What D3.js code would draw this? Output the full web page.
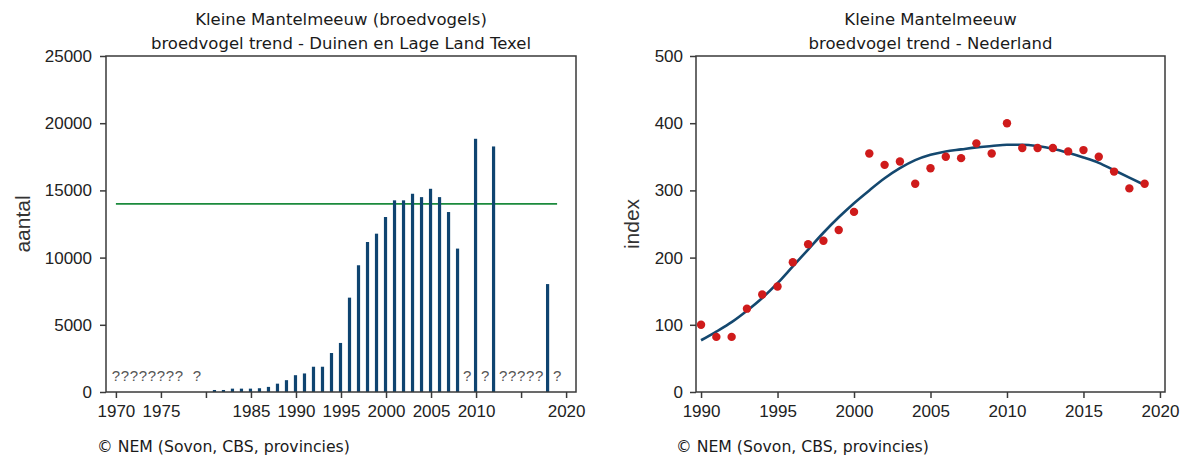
<!DOCTYPE html>
<html>
<head>
<meta charset="utf-8">
<script src="https://cdn.jsdelivr.net/npm/d3@7"></script>
<style>
  html, body { margin: 0; padding: 0; background: #fff; }
  svg { display: block; }
  .tick text { font-family: "Liberation Sans", Arial, sans-serif; font-size: 17px; fill: #222; }
  .title { font-family: "DejaVu Sans", sans-serif; font-size: 16.5px; fill: #1a1a1a; }
  .footer { font-family: "DejaVu Sans", sans-serif; font-size: 15.7px; fill: #1a1a1a; }
  .ylab { font-family: "Liberation Sans", Arial, sans-serif; font-size: 21px; fill: #333; }
  .qm { font-family: "Liberation Sans", Arial, sans-serif; font-size: 15px; fill: #555; }
</style>
</head>
<body>
<svg id="chart" width="1187" height="456"></svg>
<script>
// ---- Texel colony counts (breeding pairs) ----
const texelYears = [1981, 1982, 1983, 1984, 1985, 1986, 1987, 1988, 1989, 1990,
                    1991, 1992, 1993, 1994, 1995, 1996, 1997, 1998, 1999, 2000,
                    2001, 2002, 2003, 2004, 2005, 2006, 2007, 2008, 2010, 2012, 2018];
const texelCounts = [150, 150, 250, 250, 250, 280, 380, 620, 880, 1250,
                     1380, 1880, 1880, 2900, 3650, 7020, 9430, 11160, 11780, 13020,
                     14260, 14260, 14750, 14500, 15120, 14500, 13390, 10670, 18840, 18270, 8030];
// years without a count
const unknownYears = [1970, 1971, 1972, 1973, 1974, 1975, 1976, 1977, 1979,
                      2009, 2011, 2013, 2014, 2015, 2016, 2017, 2019];
const referenceLevel = 14000;
const referenceSpan = [1970, 2019];
const texelTickValues = [1970, 1975, 1980, 1985, 1990, 1995, 2000, 2005, 2010, 2015, 2020];
const texelTickLabels = ["1970", "1975", "", "1985", "1990", "1995", "2000", "2005", "2010", "", "2020"];
const texelYTicks = [0, 5000, 10000, 15000, 20000, 25000];

// ---- National index (1990 = 100) ----
const nlYears = [1990, 1991, 1992, 1993, 1994, 1995, 1996, 1997, 1998, 1999,
                 2000, 2001, 2002, 2003, 2004, 2005, 2006, 2007, 2008, 2009,
                 2010, 2011, 2012, 2013, 2014, 2015, 2016, 2017, 2018, 2019];
const nlIndex = [100, 82, 82, 124, 145, 157, 193, 220, 225, 241,
                 268, 355, 338, 343, 310, 333, 350, 348, 370, 355,
                 400, 363, 363, 363, 358, 360, 350, 328, 303, 310];
const nlTrend = [77, 90, 104, 121, 140, 162, 187, 212, 237, 260,
                 281, 300, 318, 333, 345, 353, 358, 361, 364, 366,
                 368, 368, 366, 362, 356, 349, 341, 330, 319, 308];
const nlTickValues = [1990, 1995, 2000, 2005, 2010, 2015, 2020];
const nlYTicks = [0, 100, 200, 300, 400, 500];

const barColor = "#0f4470";
const axisColor = "#3a3a3a";

const svg = d3.select("#chart");

function frame(g, x0, x1, y0, y1) {
  g.append("rect")
    .attr("x", x0).attr("y", y0)
    .attr("width", x1 - x0).attr("height", y1 - y0)
    .attr("fill", "none").attr("stroke", axisColor).attr("stroke-width", 1.5);
}

function styleAxis(sel) {
  sel.select(".domain").remove();
  sel.selectAll(".tick line").attr("stroke", axisColor).attr("stroke-width", 1.5);
}

// ================= left panel =================
{
  const L = 106, R = 576, T = 56, B = 392;
  const x = d3.scaleLinear().domain([1968.9, 2021.1]).range([L, R]);
  const y = d3.scaleLinear().domain([0, 25000]).range([B, T]);
  const g = svg.append("g");

  g.append("text").attr("class", "title").attr("x", (L + R) / 2).attr("y", 25)
    .attr("text-anchor", "middle").text("Kleine Mantelmeeuw (broedvogels)");
  g.append("text").attr("class", "title").attr("x", (L + R) / 2).attr("y", 49)
    .attr("text-anchor", "middle").text("broedvogel trend - Duinen en Lage Land Texel");

  g.append("g").attr("transform", `translate(${L},0)`)
    .call(d3.axisLeft(y).tickValues(texelYTicks).tickSize(6).tickPadding(8).tickFormat(d3.format("d")))
    .call(styleAxis);

  g.append("g").attr("transform", `translate(0,${B})`)
    .call(d3.axisBottom(x).tickValues(texelTickValues).tickSize(6).tickPadding(7)
      .tickFormat((d, i) => texelTickLabels[i]))
    .call(styleAxis);

  g.append("line")
    .attr("x1", x(referenceSpan[0])).attr("x2", x(referenceSpan[1]))
    .attr("y1", y(referenceLevel)).attr("y2", y(referenceLevel))
    .attr("stroke", "#1b8a3c").attr("stroke-width", 1.6);

  const bw = 3.2;
  g.selectAll("rect.bar").data(texelYears).join("rect")
    .attr("class", "bar")
    .attr("x", d => x(d) - bw / 2 - 0.5)
    .attr("width", bw)
    .attr("y", (d, i) => y(texelCounts[i]))
    .attr("height", (d, i) => B - y(texelCounts[i]))
    .attr("fill", barColor);

  g.selectAll("text.qm").data(unknownYears).join("text")
    .attr("class", "qm")
    .attr("x", d => x(d)).attr("y", 381)
    .attr("text-anchor", "middle").text("?");

  frame(g, L, R, T, B);

  g.append("text").attr("class", "ylab")
    .attr("transform", `translate(30,${(T + B) / 2}) rotate(-90)`)
    .attr("text-anchor", "middle").text("aantal");

  g.append("text").attr("class", "footer").attr("x", 97).attr("y", 452)
    .text("© NEM (Sovon, CBS, provincies)");
}

// ================= right panel =================
{
  const L = 696, R = 1165, T = 56, B = 392;
  const x = d3.scaleLinear().domain([1989.67, 2020.33]).range([L, R]);
  const y = d3.scaleLinear().domain([0, 500]).range([B, T]);
  const g = svg.append("g");

  g.append("text").attr("class", "title").attr("x", (L + R) / 2).attr("y", 25)
    .attr("text-anchor", "middle").text("Kleine Mantelmeeuw");
  g.append("text").attr("class", "title").attr("x", (L + R) / 2).attr("y", 49)
    .attr("text-anchor", "middle").text("broedvogel trend - Nederland");

  g.append("g").attr("transform", `translate(${L},0)`)
    .call(d3.axisLeft(y).tickValues(nlYTicks).tickSize(6).tickPadding(7).tickFormat(d3.format("d")))
    .call(styleAxis);

  g.append("g").attr("transform", `translate(0,${B})`)
    .call(d3.axisBottom(x).tickValues(nlTickValues).tickSize(6).tickPadding(7).tickFormat(d3.format("d")))
    .call(styleAxis);

  const line = d3.line()
    .x((d, i) => x(nlYears[i]))
    .y(d => y(d))
    .curve(d3.curveMonotoneX);
  g.append("path").datum(nlTrend)
    .attr("d", line)
    .attr("fill", "none").attr("stroke", "#14486f").attr("stroke-width", 2.6);

  g.selectAll("circle.pt").data(nlIndex).join("circle")
    .attr("class", "pt")
    .attr("cx", (d, i) => x(nlYears[i]))
    .attr("cy", d => y(d))
    .attr("r", 4.2)
    .attr("fill", "#cf1b1b");

  frame(g, L, R, T, B);

  g.append("text").attr("class", "ylab")
    .attr("transform", `translate(639,${(T + B) / 2}) rotate(-90)`)
    .attr("text-anchor", "middle").text("index");

  g.append("text").attr("class", "footer").attr("x", 676).attr("y", 452)
    .text("© NEM (Sovon, CBS, provincies)");
}
</script>
</body>
</html>
